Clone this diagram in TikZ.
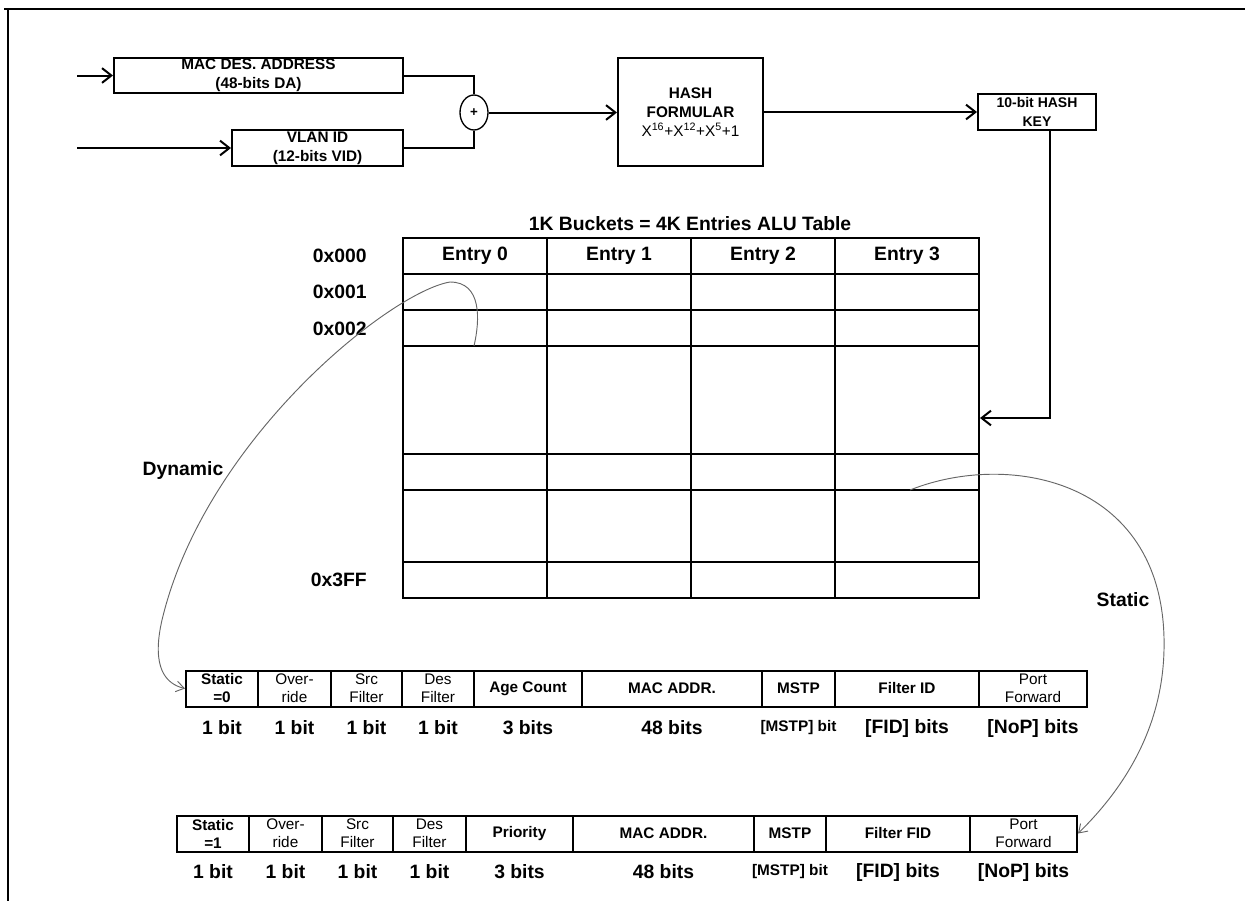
\documentclass[tikz,border=0pt]{standalone}
\usepackage{fontspec}
\setmainfont{Liberation Sans}
\usetikzlibrary{arrows.meta,positioning,shapes.geometric}

\begin{document}
\begin{tikzpicture}[x=0.75pt,y=0.75pt,yscale=-1,xscale=1,
  box/.style={draw,line width=1.5pt,inner sep=0pt,align=center,font=\bfseries\fontsize{11.5}{14}\selectfont},
  wire/.style={line width=1.5pt},
  conn/.style={line width=1.5pt,-{Straight Barb[length=7pt,width=11pt]}},
  link/.style={draw=black!60,line width=0.7pt,-{Straight Barb[length=6pt,width=8pt]}},
  cell/.style={draw,line width=1.5pt,inner sep=0pt,align=center,minimum height=27pt,font=\bfseries\fontsize{11.5}{13.5}\selectfont},
  bitlbl/.style={inner sep=0pt,font=\bfseries\fontsize{14.5}{16}\selectfont},
  tbl/.style={inner sep=0pt,font=\bfseries\fontsize{14.5}{16}\selectfont}]
\useasboundingbox (0,0) rectangle (1245,901);

%Frame
\draw [line width=2.2pt] (4,9) -- (1245,9) ;
\draw [line width=2pt] (8,9) -- (8,901) ;

%Shape: Rectangle [MAC address]
\node [box,minimum width=216.75pt,minimum height=26.25pt] (mac) at (258.5,75.5) {MAC DES. ADDRESS\\(48-bits DA)};
%Shape: Rectangle [VLAN]
\node [box,minimum width=128.25pt,minimum height=27pt] (vlan) at (317.5,148) {VLAN ID\\(12-bits VID)};
%Shape: Ellipse [adder]
\node [draw,ellipse,line width=1pt,inner sep=0pt,minimum width=21pt,minimum height=26.25pt,font=\bfseries\fontsize{10}{10}\selectfont] (plus) at (474,112.5) {+};
%Shape: Rectangle [hash]
\node [box,minimum width=108.75pt,minimum height=81pt] (hash) at (690.5,112) {HASH\\FORMULAR\\\mdseries X\textsuperscript{16}+X\textsuperscript{12}+X\textsuperscript{5}+1};
%Shape: Rectangle [key]
\node [box,minimum width=88.5pt,minimum height=27pt,font=\bfseries\fontsize{10.5}{14}\selectfont] (key) at (1037,112) {10-bit HASH\\KEY};

\coordinate (inA) at (77,75.5) ;
\coordinate (inB) at (77,148) ;

%Straight Lines
\draw [conn] (inA) -- (mac.west) ;
\draw [conn] (inB) -- (vlan.west) ;
\draw [wire] (mac.east) -| (plus.north) ;
\draw [wire] (vlan.east) -| (plus.south) ;
\draw [conn] (plus.east) -- (hash.west |- plus.east) ;
\draw [conn] (hash.east) -- (key.west) ;

%Shape: Table [ALU]
\node [draw,line width=1.5pt,inner sep=0pt,minimum width=432pt,minimum height=270pt] (alu) at (691,418) {};
\foreach \cx in {547,691,835}
  \draw [wire] (\cx,238) -- (\cx,598) ;
\foreach \ry in {274,310,346,454,490,562}
  \draw [wire] (403,\ry) -- (979,\ry) ;
\draw [conn] ([xshift=9.75pt]key.south) |- (alu.east) ;

% Text Node
\node [tbl] (title) at (690,224) {1K Buckets = 4K Entries ALU Table};
\foreach \n [count=\i from 0] in {475,619,763,907}
  \node [tbl] (entry\i) at (\n,256) {Entry \i};
\node [tbl,anchor=east] (row0) at (367,256) {0x000};
\node [tbl,anchor=east] (row1) at (367,292) {0x001};
\node [tbl,anchor=east] (row2) at (367,329) {0x002};
\node [tbl,anchor=east] (rowlast) at (367,580) {0x3FF};
\node [tbl] (dynlbl) at (183,470) {Dynamic};
\node [tbl] (stalbl) at (1123,600) {Static};

%Dynamic entry
\foreach \xa/\xb/\txt/\bits [count=\i] in {
  186/258/{Static\\=0}/{1 bit},
  258/331/{\mdseries Over-\\\mdseries ride}/{1 bit},
  331/402/{\mdseries Src\\\mdseries Filter}/{1 bit},
  402/474/{\mdseries Des\\\mdseries Filter}/{1 bit},
  474/582/{Age Count}/{3 bits},
  582/762/{MAC ADDR.}/{48 bits},
  762/835/{MSTP}/{\fontsize{11.5}{13}\selectfont[MSTP] bit},
  835/979/{Filter ID}/{[FID] bits},
  979/1087/{\mdseries Port\\\mdseries Forward}/{[NoP] bits}}
{
  \pgfmathsetmacro\cw{(\xb-\xa)*0.75}
  \node [cell,minimum width=\cw pt] (dyn\i) at ({(\xa+\xb)/2},688.5) {\txt};
  \node [bitlbl] (dynb\i) at ({(\xa+\xb)/2},728) {\bits};
}

%Static entry
\foreach \xa/\xb/\txt/\bits [count=\i] in {
  177/249/{Static\\=1}/{1 bit},
  249/322/{\mdseries Over-\\\mdseries ride}/{1 bit},
  322/393/{\mdseries Src\\\mdseries Filter}/{1 bit},
  393/466/{\mdseries Des\\\mdseries Filter}/{1 bit},
  466/573/{Priority}/{3 bits},
  573/754/{MAC ADDR.}/{48 bits},
  754/826/{MSTP}/{\fontsize{11.5}{13}\selectfont[MSTP] bit},
  826/970/{Filter FID}/{[FID] bits},
  970/1077/{\mdseries Port\\\mdseries Forward}/{[NoP] bits}}
{
  \pgfmathsetmacro\cw{(\xb-\xa)*0.75}
  \node [cell,minimum width=\cw pt] (sta\i) at ({(\xa+\xb)/2},833.5) {\txt};
  \node [bitlbl] (stab\i) at ({(\xa+\xb)/2},872) {\bits};
}

%Curves
\coordinate (dynsrc) at (474,346) ;
\coordinate (stasrc) at (910,490) ;
\draw [link] (dynsrc) .. controls (480,320) and (482,282) .. (450,282) .. controls (390,292) and (205,440) .. (162,620) .. controls (151,668) and (166,684) .. (dyn1.west) ;
\draw [link] (stasrc) .. controls (1010,450) and (1168,480) .. (1164,650) .. controls (1162,740) and (1112,800) .. (sta9.east) ;
\end{tikzpicture}
\end{document}
